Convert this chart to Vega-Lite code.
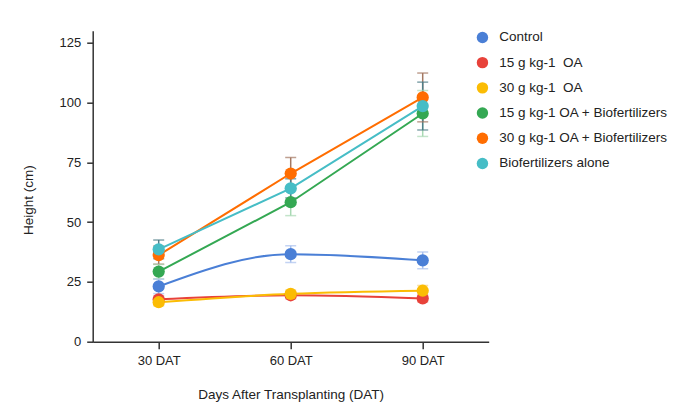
{
  "$schema": "https://vega.github.io/schema/vega-lite/v6.json",
  "width": 396,
  "height": 311,
  "autosize": {"type": "none"},
  "padding": {"left": 92.7, "top": 30.7, "right": 187.3, "bottom": 72.3},
  "background": "white",
  "config": {
    "font": "Liberation Sans",
    "view": {"stroke": null},
    "axis": {"grid": false, "domainColor": "#333", "tickColor": "#333", "labelColor": "#222", "titleColor": "#222", "labelFontSize": 13, "titleFontSize": 13.5, "titleFontWeight": "normal", "domainWidth": 1.5, "tickWidth": 1.5}
  },
  "data": {"values": [
    {"group": "Control", "day": "30 DAT", "height": 23.1, "lo": 20.1, "hi": 26.1},
    {"group": "Control", "day": "60 DAT", "height": 36.6, "lo": 33.1, "hi": 40.1},
    {"group": "Control", "day": "90 DAT", "height": 34.0, "lo": 30.5, "hi": 37.5},
    {"group": "15 g kg-1\u00a0 OA", "day": "30 DAT", "height": 17.7, "lo": 16.2, "hi": 19.2},
    {"group": "15 g kg-1\u00a0 OA", "day": "60 DAT", "height": 19.4, "lo": 17.9, "hi": 20.9},
    {"group": "15 g kg-1\u00a0 OA", "day": "90 DAT", "height": 18.1, "lo": 16.6, "hi": 19.6},
    {"group": "30 g kg-1\u00a0 OA", "day": "30 DAT", "height": 16.5, "lo": 15.0, "hi": 18.0},
    {"group": "30 g kg-1\u00a0 OA", "day": "60 DAT", "height": 20.0, "lo": 18.5, "hi": 21.5},
    {"group": "30 g kg-1\u00a0 OA", "day": "90 DAT", "height": 21.3, "lo": 19.3, "hi": 23.5},
    {"group": "15 g kg-1 OA + Biofertilizers", "day": "30 DAT", "height": 29.3, "lo": 26.3, "hi": 32.3},
    {"group": "15 g kg-1 OA + Biofertilizers", "day": "60 DAT", "height": 58.3, "lo": 52.7, "hi": 63.9},
    {"group": "15 g kg-1 OA + Biofertilizers", "day": "90 DAT", "height": 95.4, "lo": 85.8, "hi": 105.0},
    {"group": "30 g kg-1 OA + Biofertilizers", "day": "30 DAT", "height": 36.2, "lo": 32.4, "hi": 40.0},
    {"group": "30 g kg-1 OA + Biofertilizers", "day": "60 DAT", "height": 70.3, "lo": 63.6, "hi": 77.0},
    {"group": "30 g kg-1 OA + Biofertilizers", "day": "90 DAT", "height": 102.1, "lo": 91.9, "hi": 112.3},
    {"group": "Biofertilizers alone", "day": "30 DAT", "height": 38.6, "lo": 34.7, "hi": 42.5},
    {"group": "Biofertilizers alone", "day": "60 DAT", "height": 64.1, "lo": 60.1, "hi": 68.1},
    {"group": "Biofertilizers alone", "day": "90 DAT", "height": 98.5, "lo": 88.5, "hi": 108.5}
  ]},
  "encoding": {
    "x": {"field": "day", "type": "ordinal", "scale": {"type": "point", "padding": 0.5},
      "axis": {"title": "Days After Transplanting (DAT)", "labelAngle": 0, "tickSize": 7, "labelPadding": 6, "titlePadding": 20}}
  },
  "layer": [
    {
      "mark": {"type": "rule", "strokeWidth": 1.5},
      "encoding": {
        "y": {"field": "lo", "type": "quantitative", "scale": {"domain": [0, 125]},
          "axis": {"title": "Height (cm)", "values": [0, 25, 50, 75, 100, 125], "tickSize": 6, "labelPadding": 6, "titlePadding": 24, "titleY": 169}},
        "y2": {"field": "hi"},
        "color": {"field": "group", "type": "nominal", "legend": null,
          "scale": {"domain": ["Control", "15 g kg-1\u00a0 OA", "30 g kg-1\u00a0 OA", "15 g kg-1 OA + Biofertilizers", "30 g kg-1 OA + Biofertilizers", "Biofertilizers alone"],
                    "range": ["#a9c1ee", "#e8a09a", "#f5d27a", "#a9d9b4", "#a47862", "#4f7e88"]}}
      }
    },
    {
      "mark": {"type": "tick", "thickness": 1.5, "size": 11},
      "encoding": {
        "y": {"field": "lo", "type": "quantitative"},
        "color": {"field": "group", "type": "nominal", "legend": null,
          "scale": {"domain": ["Control", "15 g kg-1\u00a0 OA", "30 g kg-1\u00a0 OA", "15 g kg-1 OA + Biofertilizers", "30 g kg-1 OA + Biofertilizers", "Biofertilizers alone"],
                    "range": ["#a9c1ee", "#e8a09a", "#f5d27a", "#a9d9b4", "#a47862", "#4f7e88"]}}
      }
    },
    {
      "mark": {"type": "tick", "thickness": 1.5, "size": 11},
      "encoding": {
        "y": {"field": "hi", "type": "quantitative"},
        "color": {"field": "group", "type": "nominal", "legend": null,
          "scale": {"domain": ["Control", "15 g kg-1\u00a0 OA", "30 g kg-1\u00a0 OA", "15 g kg-1 OA + Biofertilizers", "30 g kg-1 OA + Biofertilizers", "Biofertilizers alone"],
                    "range": ["#a9c1ee", "#e8a09a", "#f5d27a", "#a9d9b4", "#a47862", "#4f7e88"]}}
      }
    },
    {
      "transform": [{"filter": "indexof(['Control', '15 g kg-1\u00a0 OA', '30 g kg-1\u00a0 OA'], datum.group) >= 0"}],
      "mark": {"type": "line", "interpolate": "monotone", "strokeWidth": 2},
      "encoding": {
        "y": {"field": "height", "type": "quantitative"},
        "color": {"field": "group", "type": "nominal", "legend": null,
          "scale": {"domain": ["Control", "15 g kg-1\u00a0 OA", "30 g kg-1\u00a0 OA", "15 g kg-1 OA + Biofertilizers", "30 g kg-1 OA + Biofertilizers", "Biofertilizers alone"],
                    "range": ["#4a7fd6", "#e8423a", "#fbbc04", "#34a853", "#ff6d01", "#46bdc6"]}}
      }
    },
    {
      "transform": [{"filter": "indexof(['Control', '15 g kg-1\u00a0 OA', '30 g kg-1\u00a0 OA'], datum.group) < 0"}],
      "mark": {"type": "line", "interpolate": "linear", "strokeWidth": 2},
      "encoding": {
        "y": {"field": "height", "type": "quantitative"},
        "color": {"field": "group", "type": "nominal", "legend": null,
          "scale": {"domain": ["Control", "15 g kg-1\u00a0 OA", "30 g kg-1\u00a0 OA", "15 g kg-1 OA + Biofertilizers", "30 g kg-1 OA + Biofertilizers", "Biofertilizers alone"],
                    "range": ["#4a7fd6", "#e8423a", "#fbbc04", "#34a853", "#ff6d01", "#46bdc6"]}}
      }
    },
    {
      "mark": {"type": "point", "filled": true, "opacity": 1, "size": 150},
      "encoding": {
        "y": {"field": "height", "type": "quantitative"},
        "color": {"field": "group", "type": "nominal",
          "scale": {"domain": ["Control", "15 g kg-1\u00a0 OA", "30 g kg-1\u00a0 OA", "15 g kg-1 OA + Biofertilizers", "30 g kg-1 OA + Biofertilizers", "Biofertilizers alone"],
                    "range": ["#4a7fd6", "#e8423a", "#fbbc04", "#34a853", "#ff6d01", "#46bdc6"]},
          "legend": {"title": null, "orient": "none", "legendX": 383, "legendY": 0, "symbolType": "circle", "symbolSize": 130, "labelFontSize": 13.5, "labelColor": "#222", "labelOffset": 10, "rowPadding": 10.2, "labelLimit": 300}}
      }
    }
  ],
  "resolve": {"scale": {"color": "independent"}}
}
